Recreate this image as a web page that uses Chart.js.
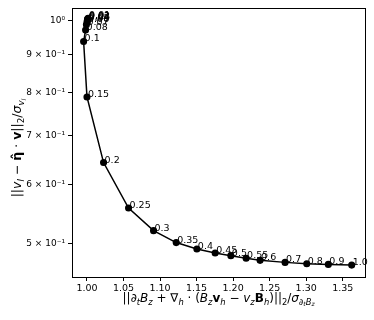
<!DOCTYPE html>
<html>
<head>
<meta charset="utf-8">
<script src="https://cdn.jsdelivr.net/npm/chart.js@4.4.0/dist/chart.umd.min.js"></script>
<style>
  html, body { margin: 0; padding: 0; background: #fff; }
  #wrap { width: 374px; height: 320px; }
</style>
</head>
<body>
<div id="wrap"><canvas id="lcurve"></canvas></div>
<script>
// regularisation values, one label per point
var lambdas = ['0.01', '0.02', '0.03', '0.04', '0.05', '0.06', '0.07', '0.08', '0.1',
               '0.15', '0.2', '0.25', '0.3', '0.35', '0.4', '0.45', '0.5', '0.55',
               '0.6', '0.7', '0.8', '0.9', '1.0'];
// induction misfit (x) and velocity misfit (y)
var misfitB = [1.0015, 1.0013, 1.0011, 1.0008, 1.0005, 1.0001, 0.9992, 0.9981, 0.9954,
               1.0000, 1.0227, 1.0569, 1.0911, 1.1221, 1.1504, 1.1754, 1.1969, 1.2178,
               1.2369, 1.2711, 1.3008, 1.3303, 1.3623];
var misfitV = [1.008, 1.007, 1.006, 1.004, 1.001, 0.996, 0.988, 0.972, 0.938,
               0.789, 0.643, 0.558, 0.520, 0.501, 0.491, 0.485, 0.481, 0.477,
               0.474, 0.471, 0.469, 0.468, 0.467];
var xTicks = [1.00, 1.05, 1.10, 1.15, 1.20, 1.25, 1.30, 1.35];
var yTicks = [0.5, 0.6, 0.7, 0.8, 0.9, 1.0];

var FONT = 'DejaVu Sans';
var SUP = { '-': '\u207B', '0': '\u2070', '1': '\u00B9' };

function logLabel(v) {
    if (Math.abs(v - 1) < 1e-9) return '10' + SUP['0'];
    var m = Math.round(v * 10);
    return m + ' \u00D7 10' + SUP['-'] + SUP['1'];
}

// small mathtext-like renderer: [text, italic, bold, level]
function drawRich(ctx, segs, size, cx, cy, rot) {
    var scale = [1, 0.7, 0.5], drop = [0, 0.22, 0.36];
    function font(s) {
        return (s[1] ? 'italic ' : '') + (s[2] ? 'bold ' : '') + (size * scale[s[3]]) + 'px "' + FONT + '"';
    }
    var total = 0;
    segs.forEach(function (s) { ctx.font = font(s); total += ctx.measureText(s[0]).width; });
    ctx.save();
    ctx.translate(cx, cy);
    ctx.rotate(rot);
    ctx.fillStyle = '#000';
    ctx.textBaseline = 'alphabetic';
    ctx.textAlign = 'left';
    var x = -total / 2;
    segs.forEach(function (s) {
        ctx.font = font(s);
        ctx.fillText(s[0], x, drop[s[3]] * size);
        x += ctx.measureText(s[0]).width;
    });
    ctx.restore();
}

var xTitle = [
    ['||', 0, 0, 0], ['\u2202', 1, 0, 0], ['t', 1, 0, 1], ['B', 1, 0, 0], ['z', 1, 0, 1],
    [' + ', 0, 0, 0], ['\u2207', 0, 0, 0], ['h', 1, 0, 1], [' \u00B7 (', 0, 0, 0],
    ['B', 1, 0, 0], ['z', 1, 0, 1], ['v', 0, 1, 0], ['h', 1, 0, 1], [' \u2212 ', 0, 0, 0],
    ['v', 1, 0, 0], ['z', 1, 0, 1], ['B', 0, 1, 0], ['h', 1, 0, 1], [')||', 0, 0, 0],
    ['2', 0, 0, 1], ['/', 0, 0, 0], ['\u03C3', 1, 0, 0], ['\u2202', 1, 0, 1], ['t', 1, 0, 2],
    ['B', 1, 0, 1], ['z', 1, 0, 2]
];
var yTitle = [
    ['||', 0, 0, 0], ['v', 1, 0, 0], ['l', 1, 0, 1], [' \u2212 ', 0, 0, 0],
    ['\u03B7\u0302', 0, 1, 0], [' \u00B7 ', 0, 0, 0], ['v', 0, 1, 0], ['||', 0, 0, 0],
    ['2', 0, 0, 1], ['/', 0, 0, 0], ['\u03C3', 1, 0, 0], ['v', 1, 0, 1], ['l', 1, 0, 2]
];

var decorations = {
    id: 'decorations',
    afterDatasetsDraw: function (chart) {
        var ctx = chart.ctx, a = chart.chartArea;
        var pts = chart.getDatasetMeta(0).data;
        ctx.save();
        ctx.fillStyle = '#000';
        ctx.font = '9.5px "' + FONT + '"';
        ctx.textAlign = 'left';
        ctx.textBaseline = 'alphabetic';
        pts.forEach(function (p, i) {
            ctx.fillText(lambdas[i], p.x + 1, p.y);
        });
        // frame
        ctx.strokeStyle = '#000';
        ctx.lineWidth = 1;
        ctx.strokeRect(Math.round(a.left) + 0.5, Math.round(a.top) + 0.5,
                       Math.round(a.right - a.left), Math.round(a.bottom - a.top));
        ctx.restore();
        drawRich(ctx, xTitle, 12, (a.left + a.right) / 2, 302, 0);
        drawRich(ctx, yTitle, 12.5, 21, 148, -Math.PI / 2);
    }
};

var ctx = document.getElementById('lcurve').getContext('2d');
var lcurveChart = new Chart(ctx, {
    type: 'scatter',
    data: {
        datasets: [{
            data: misfitB.map(function (x, i) { return { x: x, y: misfitV[i] }; }),
            showLine: true,
            borderColor: '#000',
            borderWidth: 1.5,
            backgroundColor: '#000',
            pointBackgroundColor: '#000',
            pointBorderColor: '#000',
            pointRadius: 2.8,
            pointHoverRadius: 2.8,
            tension: 0
        }]
    },
    options: {
        responsive: true,
        maintainAspectRatio: false,
        animation: false,
        devicePixelRatio: 1,
        layout: { padding: { top: 7, right: 9, left: 0, bottom: 0 } },
        plugins: { legend: { display: false }, tooltip: { enabled: false } },
        scales: {
            x: {
                type: 'linear',
                min: 0.9795,
                max: 1.3805,
                grid: { drawOnChartArea: false, drawTicks: true, tickLength: 4, tickColor: '#000' },
                border: { display: true, color: '#000', width: 1 },
                ticks: {
                    color: '#000',
                    font: { family: FONT, size: 9.5 },
                    padding: 2,
                    maxRotation: 0,
                    autoSkip: false,
                    callback: function (v) { return Number(v).toFixed(2); }
                },
                afterBuildTicks: function (s) { s.ticks = xTicks.map(function (v) { return { value: v }; }); },
                afterFit: function (s) { s.height = 43; }
            },
            y: {
                type: 'logarithmic',
                min: 0.4515,
                max: 1.04,
                grid: { drawOnChartArea: false, drawTicks: true, tickLength: 4, tickColor: '#000' },
                border: { display: true, color: '#000', width: 1 },
                ticks: {
                    color: '#000',
                    font: { family: FONT, size: 9 },
                    padding: 3,
                    autoSkip: false,
                    callback: function (v) { return logLabel(v); }
                },
                afterBuildTicks: function (s) { s.ticks = yTicks.map(function (v) { return { value: v }; }); },
                afterFit: function (s) { s.width = 72; }
            }
        }
    },
    plugins: [decorations]
});
</script>
</body>
</html>
